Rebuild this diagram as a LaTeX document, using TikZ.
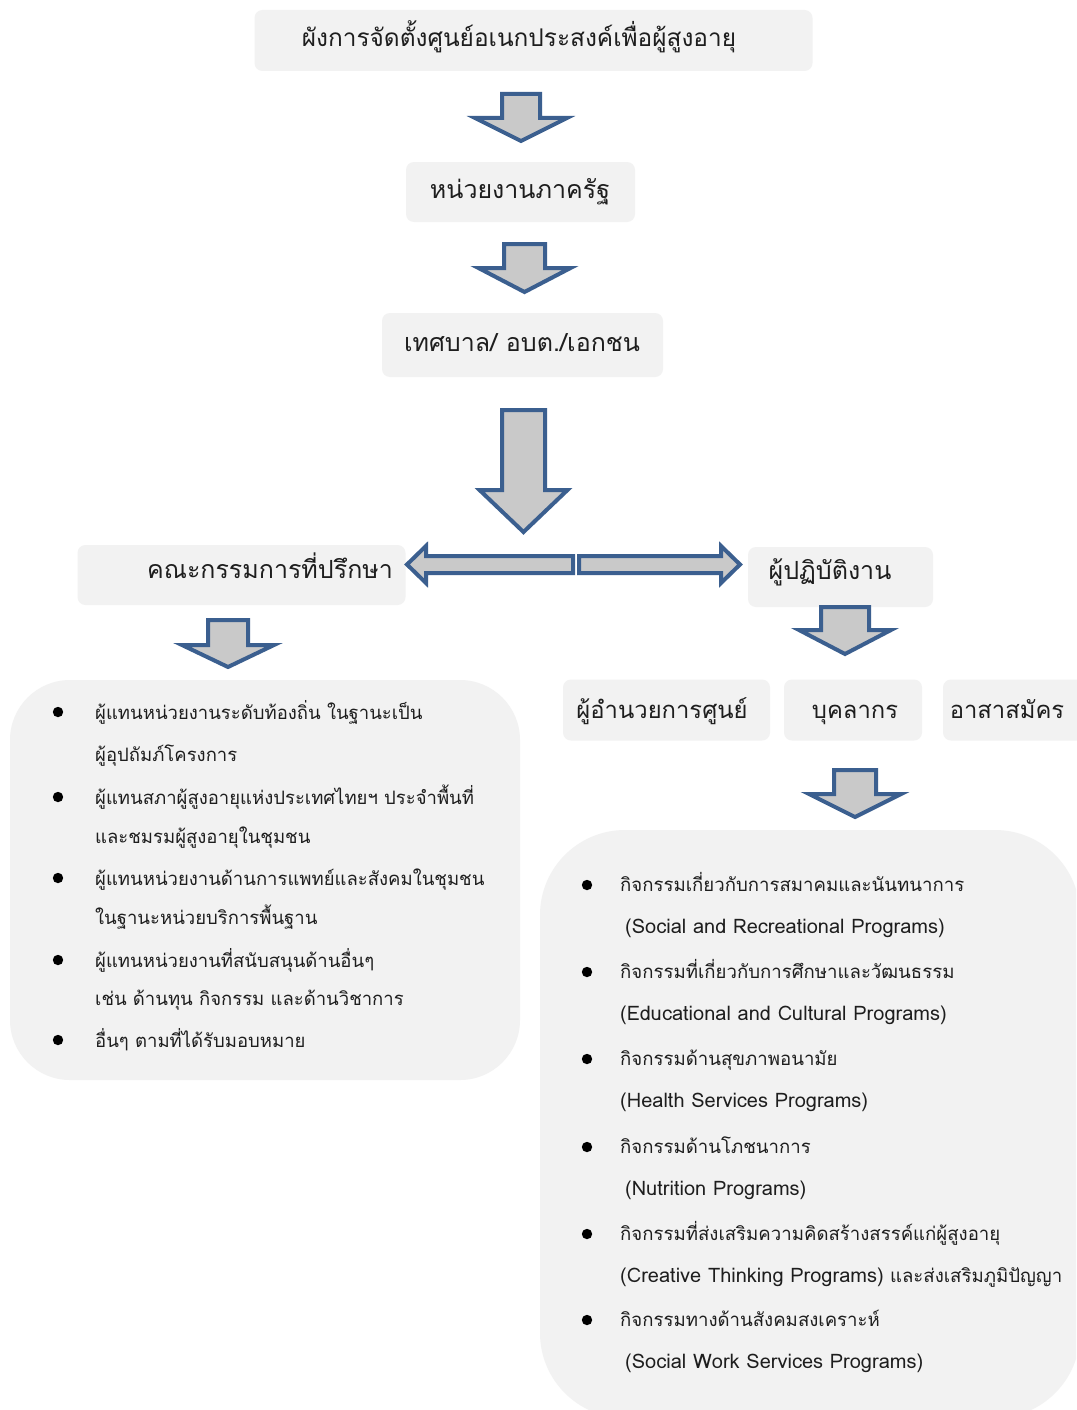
\documentclass[tikz,border=0pt]{standalone}
\usepackage{fontspec}
\setmainfont[Script=Thai]{Loma}
\definecolor{boxfill}{HTML}{F2F2F2}
\definecolor{arrowfill}{HTML}{C9C9C9}
\definecolor{arrowline}{HTML}{3B5F8F}
\definecolor{txt}{HTML}{1E1E1E}
\newcommand\blockdown[6]{% cx, top, shaft half, head base, head half, tip
  \draw[blockarrow] ({#1-#3},{#2}) -- ({#1+#3},{#2}) -- ({#1+#3},{#4}) -- ({#1+#5},{#4})
    -- ({#1},{#6}) -- ({#1-#5},{#4}) -- ({#1-#3},{#4}) -- cycle;}
\newcommand\engl[1]{{\fontsize{20}{22}\selectfont #1}}
\begin{document}
\begin{tikzpicture}[x=1pt,y=-1pt,
  boxbg/.style={fill=boxfill, draw=none, rounded corners=8pt, inner sep=0pt},
  blockarrow/.style={fill=arrowfill, draw=arrowline, line width=4pt, line join=miter},
  lbl/.style={text=txt, font=\fontsize{25}{30}\selectfont, inner sep=0pt, anchor=mid, yshift=-5pt},
  lblsm/.style={lbl, font=\fontsize{23.8}{30}\selectfont},
  itemL/.style={text=txt, font=\fontsize{18.5}{22}\selectfont, inner sep=0pt, anchor=mid west, yshift=-5pt},
  itemR/.style={text=txt, font=\fontsize{18.6}{22}\selectfont, inner sep=0pt, anchor=mid west, yshift=-4pt},
  bul/.style={fill=black, draw=none}
]
\useasboundingbox (0,0) rectangle (1076,1410);
\fill[white] (0,0) rectangle (1076,1410);

% ---------- boxes ----------
\node[boxbg, minimum width=558pt, minimum height=61pt] (titlebox) at (533.5,40.5) {};
\node[boxbg, minimum width=229pt, minimum height=60pt] (statebox) at (520.5,192) {};
\node[boxbg, minimum width=281pt, minimum height=64pt] (localbox) at (522.5,345) {};
\node[boxbg, minimum width=328pt, minimum height=60pt] (cttbox) at (241.5,575) {};
\node[boxbg, minimum width=185pt, minimum height=60pt] (opbox) at (840.5,577) {};
\node[boxbg, minimum width=207pt, minimum height=61pt] (dirbox) at (666.5,710) {};
\node[boxbg, minimum width=138pt, minimum height=61pt] (staffbox) at (853,710) {};
\node[boxbg, minimum width=150pt, minimum height=61pt] (volbox) at (1018,710) {};
\node[boxbg, rounded corners=60pt, minimum width=510pt, minimum height=400pt] (leftbox) at (265,880) {};
\begin{scope}
\clip (0,0) rectangle (1076,1410);
\node[boxbg, rounded corners=85pt, minimum width=540pt, minimum height=588pt] (rightbox) at (810,1124) {};
\end{scope}

% ---------- box labels ----------
\node[lbl, font=\fontsize{24.4}{30}\selectfont] (title) at (519,39) {ผังการจัดตั้งศูนย์อเนกประสงค์เพื่อผู้สูงอายุ};
\node[lbl] (state) at (520,191) {หน่วยงานภาครัฐ};
\node[lbl] (local) at (522,344) {เทศบาล/ อบต./เอกชน};
\node[lbl] (ctt) at (270,571) {คณะกรรมการที่ปรึกษา};
\node[lbl] (op) at (830,572) {ผู้ปฏิบัติงาน};
\node[lblsm] (dir) at (662,711) {ผู้อำนวยการศูนย์};
\node[lblsm] (staff) at (855,711) {บุคลากร};
\node[lblsm] (vol) at (1007,711) {อาสาสมัคร};

% ---------- block arrows ----------
\blockdown{521}{94}{19}{118}{46}{141}
\blockdown{524.5}{244}{20.5}{268}{46}{292}
\blockdown{523.5}{410}{21.5}{490}{44}{532}
\blockdown{228}{620}{20}{645}{46}{667}
\blockdown{845}{607}{24}{630}{46}{654}
\blockdown{855}{770}{21}{794}{46}{817}
\draw[blockarrow] (573,556) -- (426,556) -- (426,546) -- (407,564.5) -- (426,583) -- (426,573) -- (573,573) -- cycle;
\draw[blockarrow] (579,556) -- (721,556) -- (721,546) -- (740,564.5) -- (721,583) -- (721,573) -- (579,573) -- cycle;

% ---------- left list ----------
\foreach \yy in {712,797,878,960,1040} \fill[bul] (58,\yy) circle (5.2);
\node[itemL] (l1) at (95,712) {ผู้แทนหน่วยงานระดับท้องถิ่น ในฐานะเป็น};
\node[itemL] (l2) at (95,754) {ผู้อุปถัมภ์โครงการ};
\node[itemL] (l3) at (95,797) {ผู้แทนสภาผู้สูงอายุแห่งประเทศไทยฯ ประจำพื้นที่};
\node[itemL] (l4) at (95,836) {และชมรมผู้สูงอายุในชุมชน};
\node[itemL] (l5) at (95,878) {ผู้แทนหน่วยงานด้านการแพทย์และสังคมในชุมชน};
\node[itemL] (l6) at (95,917) {ในฐานะหน่วยบริการพื้นฐาน};
\node[itemL] (l7) at (95,960) {ผู้แทนหน่วยงานที่สนับสนุนด้านอื่นๆ};
\node[itemL] (l8) at (95,998) {เช่น ด้านทุน กิจกรรม และด้านวิชาการ};
\node[itemL] (l9) at (95,1040) {อื่นๆ ตามที่ได้รับมอบหมาย};

% ---------- right list ----------
\foreach \yy in {885,972,1059,1147,1234,1320} \fill[bul] (587,\yy) circle (5.2);
\node[itemR] (r1) at (620,885) {กิจกรรมเกี่ยวกับการสมาคมและนันทนาการ};
\node[itemR] (r2) at (625,927) {\engl{(Social and Recreational Programs)}};
\node[itemR] (r3) at (620,972) {กิจกรรมที่เกี่ยวกับการศึกษาและวัฒนธรรม};
\node[itemR] (r4) at (620,1014) {\engl{(Educational and Cultural Programs)}};
\node[itemR] (r5) at (620,1059) {กิจกรรมด้านสุขภาพอนามัย};
\node[itemR] (r6) at (620,1101) {\engl{(Health Services Programs)}};
\node[itemR] (r7) at (620,1147) {กิจกรรมด้านโภชนาการ};
\node[itemR] (r8) at (625,1189) {\engl{(Nutrition Programs)}};
\node[itemR] (r9) at (620,1234) {กิจกรรมที่ส่งเสริมความคิดสร้างสรรค์แก่ผู้สูงอายุ};
\node[itemR] (r10) at (620,1276) {\engl{(Creative Thinking Programs)} และส่งเสริมภูมิปัญญา};
\node[itemR] (r11) at (620,1320) {กิจกรรมทางด้านสังคมสงเคราะห์};
\node[itemR] (r12) at (625,1362) {\engl{(Social Work Services Programs)}};
\end{tikzpicture}
\end{document}
